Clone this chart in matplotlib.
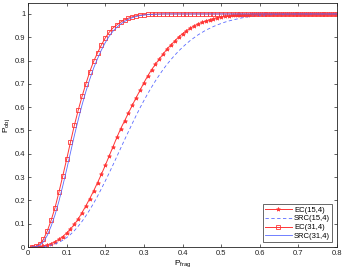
import numpy as np
import matplotlib
matplotlib.use("Agg")
import matplotlib.pyplot as plt

plt.rcParams['font.family'] = ['Liberation Sans', 'DejaVu Sans']
plt.rcParams['mathtext.fontset'] = 'custom'
plt.rcParams['mathtext.rm'] = 'Liberation Sans'
plt.rcParams['mathtext.it'] = 'Liberation Sans'

p_frag = [round(0.01 * i, 2) for i in range(1, 81)]

ec_15_4 = [0.0, 0.001, 0.002, 0.005, 0.009, 0.015, 0.023, 0.033, 0.045, 0.06,
           0.077, 0.097, 0.12, 0.148, 0.177, 0.208, 0.241, 0.276, 0.312, 0.35,
           0.39, 0.43, 0.47, 0.508, 0.541, 0.575, 0.608, 0.641, 0.672, 0.705,
           0.734, 0.761, 0.784, 0.807, 0.828, 0.85, 0.867, 0.884, 0.901, 0.915,
           0.928, 0.939, 0.949, 0.957, 0.964, 0.97, 0.975, 0.98, 0.984, 0.987,
           0.99, 0.992, 0.994, 0.995, 0.996, 0.997, 0.997, 0.998, 0.998, 0.999,
           0.999, 0.999, 1.0, 1.0, 1.0, 1.0, 1.0, 1.0, 1.0, 1.0,
           1.0, 1.0, 1.0, 1.0, 1.0, 1.0, 1.0, 1.0, 1.0, 1.0]

src_15_4 = [0.0, 0.0, 0.001, 0.002, 0.004, 0.008, 0.013, 0.02, 0.029, 0.04,
            0.054, 0.07, 0.089, 0.11, 0.134, 0.16, 0.188, 0.218, 0.25, 0.283,
            0.317, 0.352, 0.388, 0.424, 0.46, 0.495, 0.53, 0.564, 0.597, 0.628,
            0.658, 0.686, 0.713, 0.738, 0.762, 0.784, 0.804, 0.823, 0.841, 0.857,
            0.872, 0.886, 0.898, 0.91, 0.92, 0.93, 0.938, 0.946, 0.953, 0.959,
            0.965, 0.97, 0.974, 0.978, 0.982, 0.985, 0.988, 0.99, 0.992, 0.994,
            0.995, 0.996, 0.997, 0.997, 0.998, 0.998, 0.999, 0.999, 0.999, 1.0,
            1.0, 1.0, 1.0, 1.0, 1.0, 1.0, 1.0, 1.0, 1.0, 1.0]

ec_31_4 = [0.0, 0.003, 0.012, 0.033, 0.069, 0.115, 0.169, 0.235, 0.305, 0.376,
           0.45, 0.522, 0.587, 0.647, 0.701, 0.753, 0.797, 0.833, 0.867, 0.897,
           0.921, 0.94, 0.953, 0.965, 0.975, 0.982, 0.988, 0.992, 0.995, 0.997,
           0.998, 0.999, 0.999, 1.0, 1.0, 1.0, 1.0, 1.0, 1.0, 1.0,
           1.0, 1.0, 1.0, 1.0, 1.0, 1.0, 1.0, 1.0, 1.0, 1.0,
           1.0, 1.0, 1.0, 1.0, 1.0, 1.0, 1.0, 1.0, 1.0, 1.0,
           1.0, 1.0, 1.0, 1.0, 1.0, 1.0, 1.0, 1.0, 1.0, 1.0,
           1.0, 1.0, 1.0, 1.0, 1.0, 1.0, 1.0, 1.0, 1.0, 1.0]

src_31_4 = [0.0, 0.001, 0.007, 0.022, 0.05, 0.09, 0.138, 0.196, 0.262, 0.332,
            0.405, 0.478, 0.546, 0.61, 0.668, 0.72, 0.768, 0.808, 0.845, 0.877,
            0.904, 0.926, 0.943, 0.957, 0.968, 0.977, 0.984, 0.989, 0.993, 0.995,
            0.997, 0.998, 0.999, 0.999, 1.0, 1.0, 1.0, 1.0, 1.0, 1.0,
            1.0, 1.0, 1.0, 1.0, 1.0, 1.0, 1.0, 1.0, 1.0, 1.0,
            1.0, 1.0, 1.0, 1.0, 1.0, 1.0, 1.0, 1.0, 1.0, 1.0,
            1.0, 1.0, 1.0, 1.0, 1.0, 1.0, 1.0, 1.0, 1.0, 1.0,
            1.0, 1.0, 1.0, 1.0, 1.0, 1.0, 1.0, 1.0, 1.0, 1.0]

labels = ['EC(15,4)', 'SRC(15,4)', 'EC(31,4)', 'SRC(31,4)']
xticks = [0, 0.1, 0.2, 0.3, 0.4, 0.5, 0.6, 0.7, 0.8]
yticks = [0, 0.1, 0.2, 0.3, 0.4, 0.5, 0.6, 0.7, 0.8, 0.9, 1]

red = '#ff3535'
blue = '#5a6bff'

fig = plt.figure(figsize=(3.45, 2.7), dpi=100)
ax = fig.add_axes([28/345, 1-247/270, (337-28)/345, (247-3)/270])

ax.plot(p_frag, ec_15_4, color=red, lw=0.7, marker='*', ms=3.0, mfc=red, mec=red, mew=0.5, label=labels[0])
ax.plot(p_frag, src_15_4, color=blue, lw=0.6, ls=(0, (4, 3)), label=labels[1])
ax.plot(p_frag, ec_31_4, color=red, lw=0.7, marker='s', ms=3.0, mfc='none', mec=red, mew=0.6, label=labels[2])
ax.plot(p_frag, src_31_4, color=blue, lw=0.6, label=labels[3])

ax.set_xlim(0, 0.8)
ax.set_ylim(0, 1.047)
ax.set_xticks(xticks)
ax.set_yticks(yticks)
ax.set_xticklabels(['0', '0.1', '0.2', '0.3', '0.4', '0.5', '0.6', '0.7', '0.8'])
ax.set_yticklabels(['0', '0.1', '0.2', '0.3', '0.4', '0.5', '0.6', '0.7', '0.8', '0.9', '1'])
ax.tick_params(direction='in', length=2.5, width=0.5, labelsize=5.5, top=True, right=True, pad=2, colors='#222222')
for s in ax.spines.values():
    s.set_linewidth(0.6)
    s.set_color('#222222')

ax.set_xlabel(r'P$_{\rm frag}$', fontsize=6, labelpad=1)
ax.set_ylabel(r'P$_{\rm obj}$', fontsize=6, labelpad=2)

leg = ax.legend(loc='lower right', fontsize=5.5, frameon=True, fancybox=False,
                edgecolor='#222222', borderpad=0.3, labelspacing=0.2,
                handlelength=3.5, handletextpad=0.3, borderaxespad=0.6)
leg.get_frame().set_linewidth(0.6)

fig.savefig('out.png', dpi=100)
